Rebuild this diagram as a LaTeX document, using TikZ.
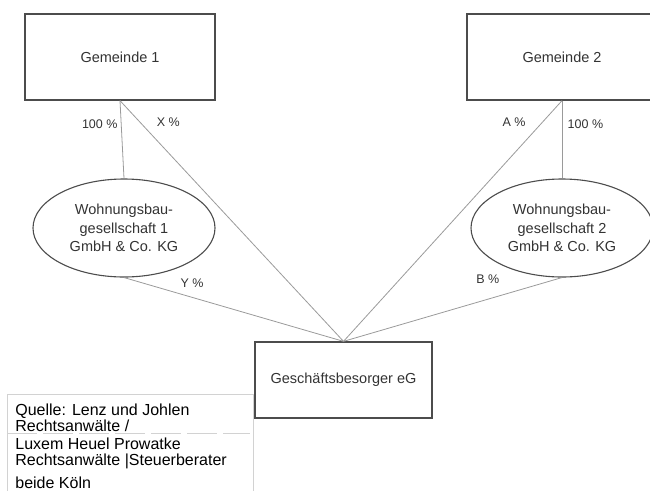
\documentclass[tikz,border=0pt]{standalone}
\usepackage{fontspec}
\setmainfont{Liberation Sans}
\usetikzlibrary{arrows}
\usetikzlibrary{positioning,shapes}

\definecolor{boxgray}{HTML}{4C4C4C}
\definecolor{linegray}{HTML}{9A9A9A}
\definecolor{textgray}{HTML}{333333}
\definecolor{framegray}{HTML}{D2D2D2}

\begin{document}
\begin{tikzpicture} [x=1pt,y=-1pt,line width=0.8pt,text=textgray,font=\fontsize{14.5}{18.5}\selectfont,
  box/.style={rectangle,draw=boxgray,line width=1.3pt,minimum width=190pt,minimum height=86pt},
  oval/.style={ellipse,draw=boxgray,line width=1.1pt,minimum width=182pt,minimum height=98pt,inner sep=0pt,align=center},
  pct/.style={font=\fontsize{12.5}{14}\selectfont}]

  \useasboundingbox (0,0) rectangle (650,490);
  \clip (0,0) rectangle (650,490);

  % source frame
  \draw[framegray] (7,394) rectangle (253,520);
  \draw[framegray,dash pattern=on 30pt off 6pt] (7,433) -- (250,433);
  \node (6) [anchor=north west,inner sep=0pt,align=left,text=black,font=\fontsize{16}{16}\selectfont] at (15,403)
    {Quelle: Lenz und Johlen\\Rechtsanwälte /\\[2pt]Luxem Heuel Prowatke\\Rechtsanwälte |Steuerberater\\[7pt]beide Köln};

  \node[box] (1) at (120,57) {Gemeinde 1};
  \node[box] (2) at (562,57) {Gemeinde 2};
  \node[oval] (3) at (124,228) {Wohnungsbau-\\gesellschaft 1\\GmbH \& Co. KG};
  \node[oval] (4) at (562,228) {Wohnungsbau-\\gesellschaft 2\\GmbH \& Co. KG};
  \node[box] (5) [minimum width=177pt,minimum height=76pt] at (343.5,380) {Geschäftsbesorger eG};

  \path[draw=linegray]
    (1.south) edge node [pct,pos=0.3,left] {100 \%} (3.north)
    (1.south) edge node [pct,pos=0.09,right,xshift=13pt] {X \%} (5.north)
    (3.south) edge node [pct,pos=0.31,above,yshift=6pt] {Y \%} (5.north)
    (2.south) edge node [pct,pos=0.09,left,xshift=-13pt] {A \%} (5.north)
    (2.south) edge node [pct,pos=0.3,right,xshift=2pt] {100 \%} (4.north)
    (4.south) edge node [pct,pos=0.34,above,yshift=12pt] {B \%} (5.north);

\end{tikzpicture}
\end{document}
